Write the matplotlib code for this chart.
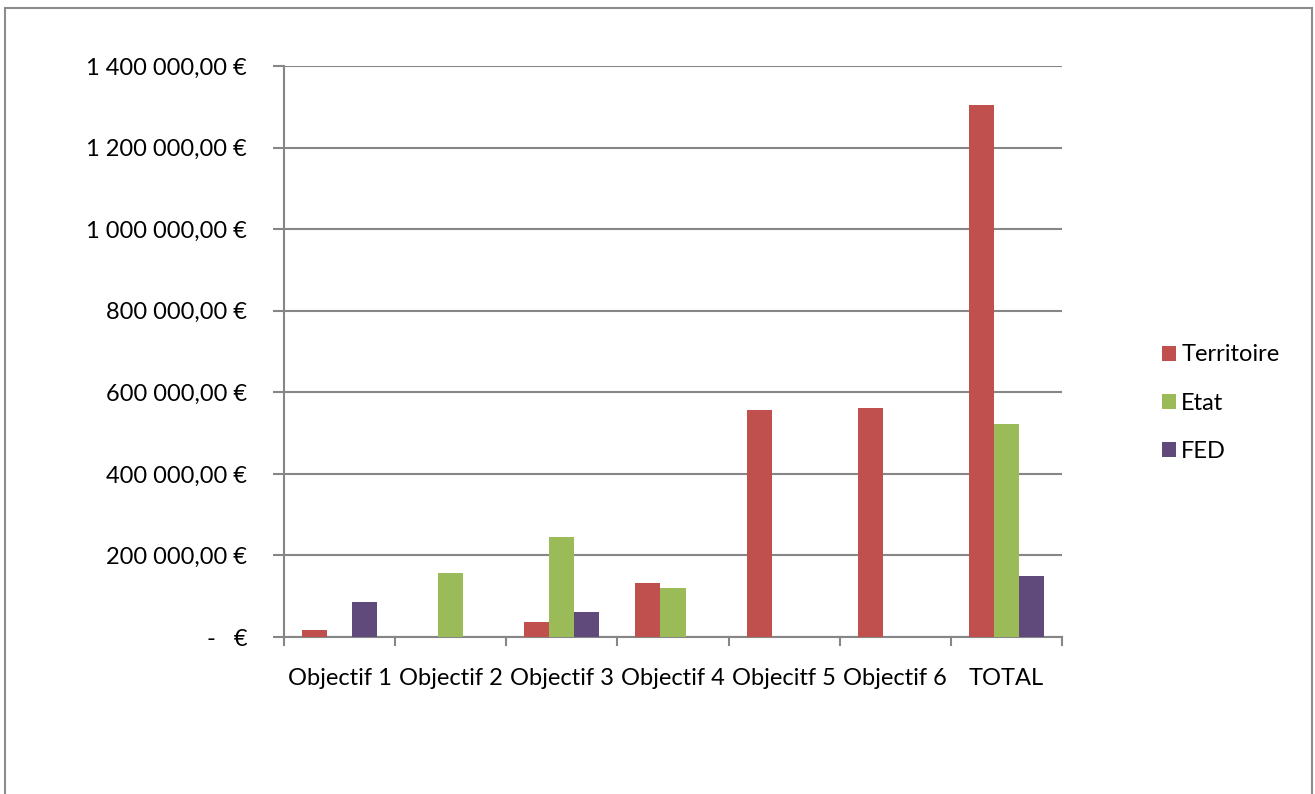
import matplotlib.pyplot as plt
import numpy as np
from matplotlib.patches import Rectangle

plt.rcParams['font.family'] = ['Lato', 'DejaVu Sans']

# data
categories = ['Objectif 1', 'Objectif 2', 'Objectif 3', 'Objectif 4',
              'Objecitf 5', 'Objectif 6', 'TOTAL']
territoire = [17000, 0, 37000, 132000, 556000, 561000, 1305000]
etat = [0, 157000, 245000, 120000, 0, 0, 522000]
fed = [86000, 0, 61000, 0, 0, 0, 149000]
series_names = ['Territoire', 'Etat', 'FED']
colors = ['#C0504D', '#9BBB59', '#604A7B']
y_ticks = [0, 200000, 400000, 600000, 800000, 1000000, 1200000, 1400000]

fig = plt.figure(figsize=(13.15, 7.94), dpi=100)
ax = fig.add_axes([284 / 1315, 1 - 637 / 794, (1062 - 284) / 1315, (637 - 66) / 794])

grid_color = '#868686'
x = np.arange(len(categories))
w = 0.225
for i, (vals, name, c) in enumerate(zip([territoire, etat, fed], series_names, colors)):
    ax.bar(x + (i - 1) * w, vals, width=w, color=c, label=name, zorder=3)

ax.set_xlim(-0.5, len(categories) - 0.5)
ax.set_ylim(0, 1400000)


def euro(v):
    if v == 0:
        return '-   €'
    s = f'{v:,.2f}'.replace(',', ' ').replace('.', ',')
    return s + ' €'


ax.set_yticks(y_ticks)
ax.set_yticklabels([euro(v) for v in y_ticks], fontsize=17)
ax.set_xticks(x)
ax.set_xticklabels(categories, fontsize=17)
ax.tick_params(axis='x', length=0, pad=22)
ax.tick_params(axis='y', length=8, width=1.5, color=grid_color, pad=18.5)

# boundary ticks on x axis
for b in np.arange(-0.5, len(categories), 1.0):
    ax.plot([b, b], [0, -0.014], color=grid_color, lw=1.5, clip_on=False,
            transform=ax.get_xaxis_transform())

ax.yaxis.grid(True, color=grid_color, lw=1.5, zorder=0)
for s in ['top', 'right']:
    ax.spines[s].set_visible(False)
for s in ['left', 'bottom']:
    ax.spines[s].set_color(grid_color)
    ax.spines[s].set_linewidth(1.5)

fig.legend(loc='center left', bbox_to_anchor=(1141 / 1315, 1 - 403 / 794),
           frameon=False, fontsize=17, handlelength=0.6, handleheight=0.6,
           handletextpad=0.2, labelspacing=1.15)

# outer chart frame
fig.patches.append(Rectangle((5 / 1315, -0.05), (1312 - 5) / 1315, 1.05 - 8 / 794,
                             transform=fig.transFigure, fill=False,
                             edgecolor='#8c8c8c', lw=1.5))

plt.savefig('out.png', dpi=100)
